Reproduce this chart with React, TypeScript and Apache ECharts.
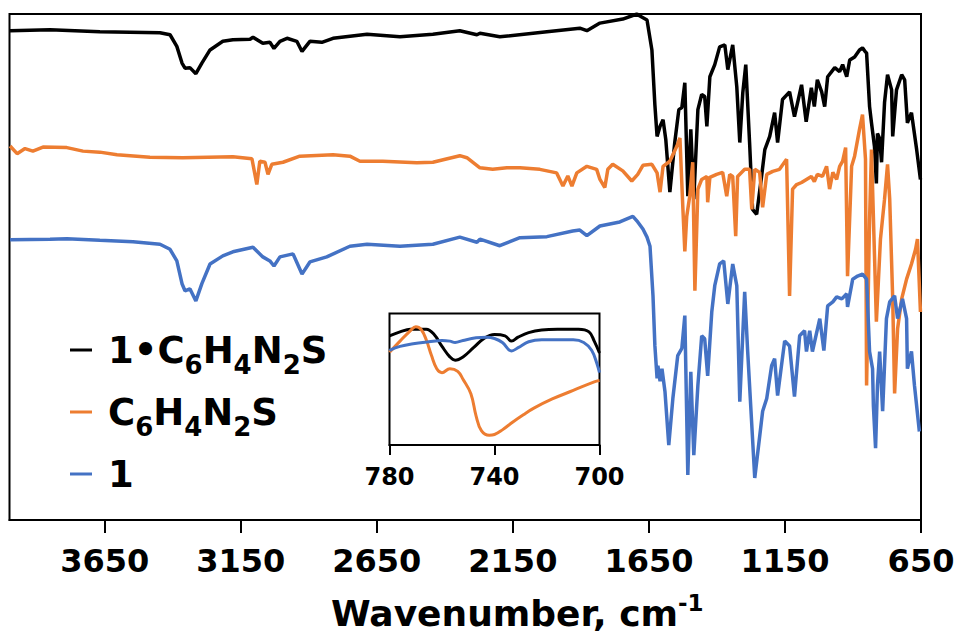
import React, { useEffect, useRef } from "react";
import * as echarts from "echarts";

// Wavenumber (cm-1) / transmittance (offset, arbitrary units 0-100)
const BLACK: [number, number][] = [
  [3998, 96.7], [3851, 96.9], [3668, 96.5], [3447, 96.3], [3410, 95.9], [3385, 93.6], [3366, 90.3], [3355, 89.3],
  [3337, 89.4], [3315, 88.2], [3293, 90.3], [3263, 92.9], [3216, 94.6], [3179, 94.9], [3116, 95.0], [3105, 95.4],
  [3069, 94.2], [3043, 94.4], [3028, 93.2], [3006, 94.6], [2980, 95.2], [2944, 94.6], [2925, 92.6], [2896, 94.6],
  [2852, 94.4], [2811, 95.2], [2686, 96.0], [2565, 95.5], [2444, 96.0], [2345, 96.7], [2282, 95.9], [2271, 96.2],
  [2198, 95.5], [2025, 96.5], [1904, 97.2], [1878, 96.7], [1830, 98.2], [1746, 99.0], [1694, 100], [1683, 99.6],
  [1657, 98.8], [1639, 92.9], [1628, 82.0], [1620, 75.8], [1609, 77.8], [1598, 79.1], [1588, 75.2], [1573, 64.8],
  [1555, 74.6], [1540, 81.1], [1529, 81.5], [1518, 86.4], [1507, 64.0], [1496, 77.2], [1485, 63.4], [1470, 81.1],
  [1456, 84.1], [1445, 83.7], [1437, 77.8], [1426, 87.6], [1408, 90.0], [1390, 93.5], [1371, 93.9], [1360, 89.0],
  [1342, 93.9], [1327, 85.6], [1316, 74.6], [1305, 84.4], [1294, 90.0], [1280, 74.6], [1269, 61.4], [1254, 60.4],
  [1236, 67.9], [1224, 73.2], [1206, 75.8], [1188, 80.5], [1177, 74.6], [1159, 83.1], [1133, 84.6], [1115, 79.7],
  [1089, 86.0], [1072, 78.7], [1053, 85.4], [1042, 81.7], [1031, 87.0], [1015, 84.6], [1004, 81.7], [993, 87.6],
  [967, 89.4], [949, 88.6], [938, 90.0], [923, 87.6], [912, 90.9], [894, 91.5], [876, 92.9], [865, 93.3],
  [854, 92.5], [850, 92.3], [839, 81.7], [832, 78.5], [821, 73.8], [814, 66.5], [810, 76.4], [802, 75.4],
  [795, 70.7], [784, 82.5], [773, 88.0], [758, 85.0], [754, 75.8], [740, 85.0], [721, 88.0], [710, 87.0],
  [700, 78.5], [685, 80.5], [666, 73.2], [652, 67.3],
];

const ORANGE: [number, number][] = [
  [3998, 73.9], [3972, 72.4], [3943, 73.4], [3914, 72.9], [3877, 73.7], [3789, 73.6], [3730, 72.9], [3668, 72.7],
  [3605, 72.2], [3484, 71.7], [3363, 71.6], [3179, 71.8], [3109, 71.4], [3091, 66.3], [3080, 70.9], [3061, 70.7],
  [3050, 68.3], [3036, 70.3], [2995, 70.7], [2933, 71.9], [2811, 72.2], [2749, 71.9], [2712, 70.9], [2628, 70.9],
  [2503, 70.6], [2444, 70.7], [2345, 72.0], [2319, 71.6], [2271, 69.6], [2224, 69.3], [2172, 69.6], [2124, 69.6],
  [2051, 69.3], [1989, 68.6], [1966, 66.0], [1948, 68.0], [1933, 66.0], [1915, 68.6], [1878, 69.9], [1842, 69.3],
  [1830, 67.3], [1812, 65.7], [1801, 69.3], [1783, 70.3], [1746, 69.0], [1713, 67.0], [1691, 68.3], [1672, 70.1],
  [1639, 70.3], [1620, 68.6], [1609, 64.8], [1598, 69.9], [1573, 70.9], [1547, 73.9], [1536, 75.5], [1525, 61.4],
  [1518, 53.1], [1511, 60.0], [1500, 64.0], [1489, 70.7], [1481, 45.3], [1470, 65.4], [1456, 67.3], [1437, 67.9],
  [1434, 62.8], [1426, 67.7], [1401, 68.3], [1379, 68.7], [1364, 64.0], [1353, 68.3], [1342, 67.9], [1331, 56.1],
  [1324, 67.9], [1298, 69.3], [1280, 69.3], [1272, 61.4], [1261, 69.3], [1243, 68.7], [1232, 61.8], [1217, 68.3],
  [1195, 68.9], [1170, 69.3], [1144, 71.3], [1133, 44.3], [1122, 65.4], [1107, 66.3], [1089, 66.7], [1071, 67.3],
  [1053, 67.9], [1042, 66.9], [1031, 68.3], [1012, 67.9], [997, 69.9], [986, 65.4], [974, 68.7], [960, 67.3],
  [949, 69.9], [938, 70.9], [927, 73.6], [920, 48.2], [905, 69.9], [894, 71.9], [876, 77.2], [865, 80.1],
  [854, 71.3], [850, 26.6], [839, 59.4], [832, 73.2], [814, 39.2], [799, 55.5], [784, 63.4], [773, 70.3],
  [765, 63.4], [754, 43.7], [747, 25.0], [736, 37.8], [721, 43.7], [703, 47.6], [685, 50.6], [670, 53.5],
  [663, 55.5], [652, 41.1],
];

const BLUE: [number, number][] = [
  [3998, 55.4], [3851, 55.5], [3789, 55.6], [3668, 55.3], [3546, 55.0], [3447, 54.5], [3410, 53.5], [3385, 51.2],
  [3366, 46.7], [3355, 45.3], [3337, 45.7], [3315, 43.3], [3293, 46.7], [3263, 50.6], [3216, 52.2], [3179, 53.0],
  [3105, 53.9], [3069, 52.0], [3043, 51.2], [3028, 50.2], [3006, 52.0], [2958, 52.6], [2925, 48.6], [2896, 51.0],
  [2834, 52.0], [2749, 54.1], [2686, 54.5], [2565, 54.1], [2444, 54.5], [2345, 55.9], [2282, 54.9], [2271, 55.5],
  [2198, 54.2], [2124, 55.8], [2025, 56.0], [1930, 57.1], [1904, 57.3], [1878, 56.2], [1830, 58.1], [1757, 58.9],
  [1709, 60.0], [1691, 58.9], [1672, 57.5], [1657, 55.9], [1646, 54.1], [1635, 44.3], [1628, 34.4], [1620, 28.0],
  [1617, 30.5], [1609, 27.4], [1602, 29.9], [1591, 25.4], [1577, 14.8], [1562, 24.0], [1544, 32.5], [1529, 33.9],
  [1518, 40.4], [1507, 8.9], [1496, 29.3], [1485, 12.8], [1470, 26.6], [1456, 36.4], [1445, 35.8], [1434, 28.5],
  [1419, 41.1], [1408, 46.3], [1390, 50.6], [1375, 51.2], [1360, 42.7], [1342, 50.6], [1327, 46.3], [1316, 23.4],
  [1298, 45.1], [1287, 33.3], [1261, 8.3], [1232, 21.5], [1217, 24.0], [1199, 30.5], [1188, 31.9], [1177, 24.6],
  [1151, 35.4], [1133, 34.4], [1115, 24.4], [1096, 36.4], [1078, 37.4], [1071, 33.3], [1059, 37.4], [1049, 33.3],
  [1022, 39.8], [1007, 33.5], [993, 42.3], [974, 43.1], [960, 44.1], [941, 43.7], [923, 44.7], [920, 42.1],
  [901, 47.6], [883, 48.2], [865, 48.6], [850, 47.6], [839, 33.3], [828, 29.9], [825, 22.6], [817, 14.2],
  [810, 26.6], [802, 33.3], [791, 21.5], [777, 39.8], [765, 43.1], [747, 44.3], [736, 39.8], [718, 43.7],
  [703, 39.8], [700, 29.9], [685, 33.3], [674, 26.6], [656, 17.5],
];

// Inset (780-700 cm-1)
const INSET_BLACK: [number, number][] = [
  [780, 83], [776, 86], [772, 88], [766, 88], [763, 84], [760, 75], [757, 67], [755, 64.5], [752, 67], [748, 74],
  [744, 81], [740, 84], [736, 83], [733.5, 79], [731, 82], [727, 85.5], [722, 87.5], [716, 88], [708, 88],
  [704, 86], [702, 79], [700, 70],
];
const INSET_ORANGE: [number, number][] = [
  [780, 70.5], [776, 79], [772, 87], [770, 90], [768, 88], [766, 80], [764, 68], [762, 58], [760, 55], [757, 58],
  [754, 56], [752, 50], [749, 39], [747, 22], [745, 11], [742, 7.5], [740, 8], [737, 11.5], [733, 17.5], [729, 23],
  [725, 28], [718, 35], [710, 41.5], [702, 48], [700, 49],
];
const INSET_BLUE: [number, number][] = [
  [780, 72], [776, 75], [771, 77], [765, 78.5], [760, 79.5], [757, 79], [755, 78], [752, 79.5], [747, 81.5],
  [743, 82], [740, 81], [737, 78], [733.5, 71.5], [731, 74], [727, 78.5], [722, 80], [716, 80], [710, 80],
  [706, 78], [703, 72], [701, 62], [700, 55],
];

const MAIN_TICKS = [650, 1150, 1650, 2150, 2650, 3150, 3650];
const INSET_TICKS = [700, 740, 780];
const SERIES_NAMES = ["1•C6H4N2S", "C6H4N2S", "1"];
const LEGEND_RICH: Record<string, string> = {
  "1•C6H4N2S": "{g|}1•C{s|6}H{s|4}N{s|2}S",
  "C6H4N2S": "{g|}C{s|6}H{s|4}N{s|2}S",
  "1": "{g|}1",
};
const COLORS = ["#000000", "#ED7D31", "#4472C4"];

const FONT = "'DejaVu Sans', 'Liberation Sans', Arial, sans-serif";

export default function App() {
  const ref = useRef<HTMLDivElement>(null);
  useEffect(() => {
    if (!ref.current) return;
    const chart = echarts.init(ref.current, undefined, { renderer: "svg" });
    const mainData = [BLACK, ORANGE, BLUE];
    const insetData = [INSET_BLACK, INSET_ORANGE, INSET_BLUE];
    const option: any = {
      animation: false,
      backgroundColor: "#ffffff",
      grid: [
        { left: 9.5, right: 38, top: 14, bottom: 117, show: true, borderColor: "#000", borderWidth: 2 },
        { left: 389.5, top: 313.5, width: 210, height: 131.5, show: true, borderColor: "#000", borderWidth: 2 },
      ],
      legend: {
        orient: "vertical",
        left: 70,
        top: 327,
        padding: 0,
        itemWidth: 22,
        itemHeight: 3,
        itemGap: 11,
        icon: "rect",
        data: SERIES_NAMES,
        formatter: (name: string) => LEGEND_RICH[name],
        textStyle: {
          fontFamily: FONT,
          fontSize: 37,
          fontWeight: "bold",
          color: "#000",
          lineHeight: 46,
          rich: {
            g: { width: 11 },
            s: {
              fontFamily: FONT,
              fontSize: 26,
              fontWeight: "bold",
              color: "#000",
              height: 16,
              verticalAlign: "bottom",
            },
          },
        },
      },
      xAxis: [
        {
          type: "value",
          gridIndex: 0,
          min: 650,
          max: 4000,
          inverse: true,
          splitLine: { show: false },
          axisLine: { lineStyle: { color: "#000", width: 2 } },
          axisTick: { customValues: MAIN_TICKS, length: 13, inside: false, lineStyle: { color: "#000", width: 2 } },
          axisLabel: {
            customValues: MAIN_TICKS,
            formatter: (v: number) => String(v),
            margin: 25,
            fontFamily: FONT,
            fontSize: 32,
            fontWeight: "bold",
            color: "#000",
          },
          name: "Wavenumber, cm{sup|-1}",
          nameLocation: "middle",
          nameGap: 72,
          nameTextStyle: {
            fontFamily: FONT,
            fontSize: 36,
            fontWeight: "bold",
            color: "#000",
            lineHeight: 42,
            padding: [0, 0, 0, 104],
            rich: {
              sup: { fontFamily: FONT, fontSize: 23, fontWeight: "bold", color: "#000", height: 22, verticalAlign: "top" },
            },
          },
        },
        {
          type: "value",
          gridIndex: 1,
          min: 700,
          max: 780,
          inverse: true,
          splitLine: { show: false },
          axisLine: { lineStyle: { color: "#000", width: 2 } },
          axisTick: { customValues: INSET_TICKS, length: 10, lineStyle: { color: "#000", width: 2 } },
          axisLabel: {
            customValues: INSET_TICKS,
            formatter: (v: number) => String(v),
            margin: 20,
            fontFamily: FONT,
            fontSize: 24,
            fontWeight: "bold",
            color: "#000",
          },
        },
      ],
      yAxis: [
        { type: "value", gridIndex: 0, min: 0, max: 100, show: false },
        { type: "value", gridIndex: 1, min: 0, max: 100, show: false },
      ],
      series: [
        ...SERIES_NAMES.map((n, i) => ({
          name: n,
          type: "line",
          xAxisIndex: 0,
          yAxisIndex: 0,
          data: mainData[i],
          showSymbol: false,
          symbol: "none",
          lineStyle: { color: COLORS[i], width: 3.5 },
          itemStyle: { color: COLORS[i] },
        })),
        ...SERIES_NAMES.map((n, i) => ({
          name: n,
          type: "line",
          xAxisIndex: 1,
          yAxisIndex: 1,
          data: insetData[i],
          smooth: 0.4,
          showSymbol: false,
          symbol: "none",
          lineStyle: { color: COLORS[i], width: 3 },
          itemStyle: { color: COLORS[i] },
        })),
      ],
    };
    chart.setOption(option);
    return () => chart.dispose();
  }, []);
  return (
    <div
      ref={ref}
      style={{ position: "fixed", left: 0, top: 0, width: 959, height: 639, background: "#fff" }}
    />
  );
}
